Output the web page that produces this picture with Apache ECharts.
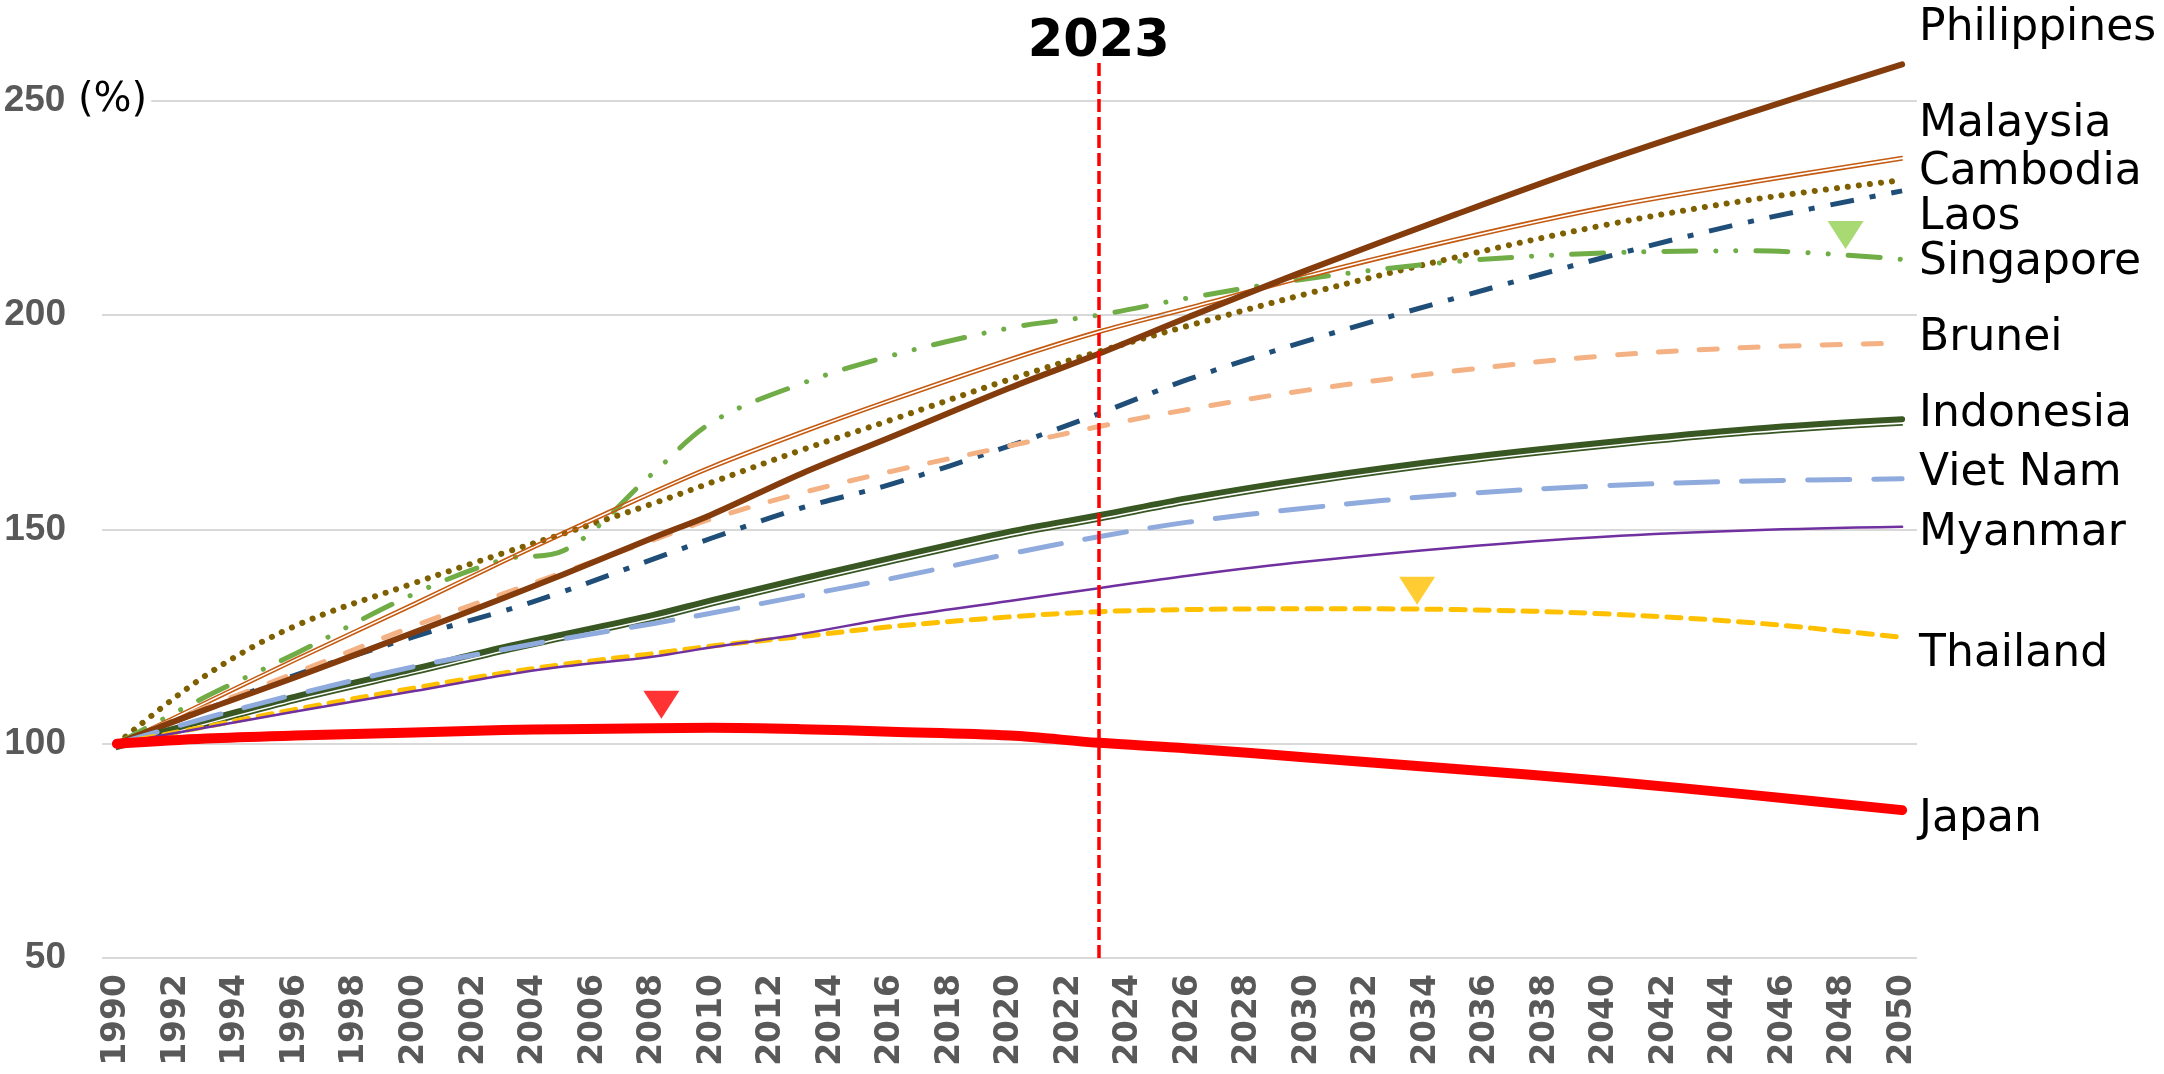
<!DOCTYPE html>
<html>
<head>
<meta charset="utf-8">
<script src="https://cdn.jsdelivr.net/npm/echarts@6/dist/echarts.min.js"></script>
<style>
  html, body { margin: 0; padding: 0; background: #fff; }
  #chart { width: 2164px; height: 1074px; }
</style>
</head>
<body>
<div id="chart"></div>
<script>
// categories
const years = [];
for (let y = 1990; y <= 2050; y++) years.push(String(y));

const keyYears = [1990, 1993, 1996, 2000, 2003, 2005, 2008, 2010, 2013, 2016, 2020, 2023, 2026, 2030, 2035, 2040, 2045, 2050];

// population index, 1990 = 100
const philippines = [100, 108, 115.5, 126, 134, 139.5, 148, 153.5, 163, 171.5, 183, 191, 199.5, 210.5, 223.5, 236, 247.5, 258.5];
const malaysia    = [100, 110, 120, 133, 143, 149.5, 159, 165, 173, 180.5, 190, 196.5, 202, 209.5, 218, 225.5, 231.5, 237];
const cambodia    = [100, 116, 127.5, 137.5, 144.5, 149, 156, 161, 168.5, 175.5, 185, 191.5, 197.5, 205, 213.5, 221, 227, 231.5];
const laos        = [100, 108, 116, 125, 131, 135.5, 143, 148, 155, 160.5, 169.5, 177, 185, 194, 204, 213.5, 222, 229];
const singapore   = [100, 111, 121, 135, 143, 145, 163, 175, 184, 190.5, 197, 200, 204, 208.5, 212.5, 214.5, 215, 213];
const brunei      = [100, 108.5, 116.5, 127.5, 135, 140, 147.5, 152.5, 158.5, 163.5, 169.5, 174, 178, 182.5, 187, 190.5, 192.5, 193.5];
const indonesia   = [100, 105.5, 111, 117.5, 122.5, 125.5, 130, 133.5, 138.5, 143.3, 149.5, 153.3, 157.3, 161.8, 166.5, 170.3, 173.5, 175.7];
const vietnam     = [100, 106, 111.5, 118, 122, 124.5, 128, 130.5, 134.5, 138.5, 144.3, 148.3, 151.7, 155, 158.2, 160.2, 161.3, 161.8];
const myanmar     = [100, 103.8, 107.5, 112.3, 116, 118, 120.3, 122.5, 125.6, 129.3, 133.3, 136.3, 139.2, 142.5, 145.8, 148.3, 149.8, 150.6];
const thailand    = [100, 104, 108, 113, 116.5, 118.5, 121, 122.8, 125, 127.3, 129.6, 130.8, 131.3, 131.5, 131.3, 130.3, 128.2, 124.8];
const japan       = [100, 101.2, 101.9, 102.6, 103.2, 103.4, 103.6, 103.7, 103.4, 102.8, 101.9, 100.2, 98.9, 96.8, 94.1, 91.3, 88.0, 84.5];

// peak markers [year, value]
const peakJapan = [2008.3, 109.1];
const peakThailand = [2033.7, 135.7];
const peakSingapore = [2048.1, 218.7];

const markYear = '2023';
const yTicks = [50, 100, 150, 200, 250];

function pts(arr) {
  return keyYears.map((y, i) => [String(y), arr[i]]);
}

function line(name, arr, style, labelDy, extra) {
  const s = {
    name: name,
    type: 'line',
    data: pts(arr),
    smooth: 0.35,
    symbol: 'none',
    lineStyle: Object.assign({ cap: 'round', join: 'round' }, style),
    endLabel: {
      show: labelDy !== null,
      formatter: name,
      distance: 17,
      offset: [0, labelDy || 0],
      fontFamily: 'DejaVu Sans',
      fontSize: 44,
      color: '#000'
    },
    emphasis: { disabled: true },
    silent: true
  };
  return Object.assign(s, extra || {});
}

const chart = echarts.init(document.getElementById('chart'));

chart.setOption({
  animation: false,
  grid: { left: 102, right: 247, top: 58, bottom: 116, outerBoundsMode: 'none', containLabel: false },
  xAxis: [{
    type: 'category',
    data: years,
    boundaryGap: true,
    axisLine: { show: false },
    axisTick: { show: false },
    splitLine: { show: false },
    axisLabel: {
      interval: 1,
      rotate: 90,
      margin: 16,
      fontFamily: 'DejaVu Sans',
      fontWeight: 'bold',
      fontSize: 33,
      color: '#595959'
    }
  }, {
    type: 'value',
    min: 1989.5,
    max: 2050.5,
    show: false
  }],
  yAxis: {
    type: 'value',
    min: 50,
    max: 260,
    interval: 50,
    axisLine: { show: false },
    axisTick: { show: false },
    splitLine: {
      lineStyle: {
        width: 2,
        color: yTicks.map(() => '#d9d9d9').concat(['rgba(0,0,0,0)'])
      }
    },
    axisLabel: {
      showMaxLabel: false,
      align: 'left',
      margin: 99,
      formatter: v => v === 250 ? '{n|' + v + '}{u|(%)}' : '{n|' + v + '}',
      rich: {
        n: { width: 63, align: 'right', fontFamily: 'Liberation Sans', fontWeight: 'bold', fontSize: 37, color: '#595959' },
        u: { fontFamily: 'DejaVu Sans', fontSize: 40, color: '#000', backgroundColor: '#fff', padding: [0, 4, 0, 12] }
      }
    }
  },
  series: [
    line('Cambodia', cambodia, { color: '#7F6000', width: 6, type: [0.1, 11] }, -8),
    line('Singapore', singapore, { color: '#70AD47', width: 5, type: [32, 20, 0.1, 20, 0.1, 20] }, 3.5),
    line('Malaysia', malaysia, { color: '#C55A11', width: 1.6, shadowColor: '#C55A11', shadowBlur: 0, shadowOffsetY: 3.4 }, -32),
    line('Laos', laos, { color: '#1F4E79', width: 5, cap: 'butt', type: [24, 16, 6, 16] }, 27),
    line('Brunei', brunei, { color: '#F4B183', width: 5, type: [18, 23] }, -4),
    line('Philippines', philippines, { color: '#843C0C', width: 6 }, -36),
    line('Indonesia thin', indonesia, { color: '#385723', width: 1.8, shadowColor: '#385723', shadowBlur: 0, shadowOffsetY: 5.5 }, null),
    line('Indonesia', indonesia, { color: '#385723', width: 6 }, -5),
    line('Viet Nam', vietnam, { color: '#8FAADC', width: 5, type: [42, 24] }, -5),
    line('Thailand', thailand, { color: '#FFC000', width: 5, type: [14, 10] }, 17),
    line('Myanmar', myanmar, { color: '#7030A0', width: 2.5 }, 7),
    line('Japan', japan, { color: '#FF0000', width: 10 }, 9, {
      markLine: {
        silent: true,
        symbol: 'none',
        lineStyle: { color: '#FF0000', width: 3.5, type: [13, 5] },
        label: {
          show: true,
          position: 'end',
          distance: -6,
          formatter: markYear,
          fontFamily: 'DejaVu Sans',
          fontWeight: 'bold',
          fontSize: 51,
          color: '#000'
        },
        data: [[{ coord: [markYear, 50] }, { coord: [markYear, 259] }]]
      }
    }),
    {
      name: 'peaks',
      type: 'scatter',
      xAxisIndex: 1,
      symbol: 'triangle',
      symbolRotate: 180,
      symbolSize: [36, 28],
      silent: true,
      z: 5,
      data: [
        { value: peakJapan, itemStyle: { color: '#FF0000' } },
        { value: peakThailand, itemStyle: { color: '#FFC000' } },
        { value: peakSingapore, itemStyle: { color: '#92D050' } }
      ]
    }
  ]
});
</script>
</body>
</html>
